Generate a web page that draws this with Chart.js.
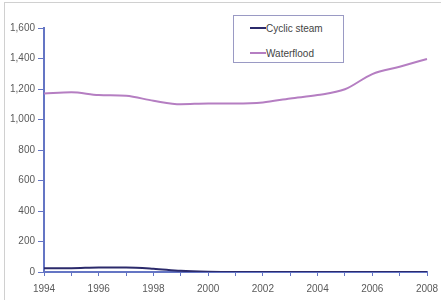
<!DOCTYPE html>
<html>
<head>
<meta charset="utf-8">
<script src="https://cdn.jsdelivr.net/npm/chart.js@4/dist/chart.umd.min.js"></script>
<style>
  html, body { margin: 0; padding: 0; background: #fff; }
  #wrap { position: relative; width: 441px; height: 300px; }
  #frame { position: absolute; left: 4px; top: 2px; width: 437px; height: 298px; border-top: 1px solid #d0d0d0; border-left: 1px solid #d0d0d0; box-sizing: border-box; }
  canvas { position: absolute; left: 0; top: 0; }
  #legend { position: absolute; left: 233px; top: 15px; width: 111px; height: 48px; border: 1px solid #9a9ac4; background: #fff; box-sizing: border-box; font: 10px "Liberation Sans", Arial, sans-serif; color: #444; }
  .item { position: absolute; left: 16px; height: 12px; line-height: 12px; white-space: nowrap; }
  .sw { display: inline-block; width: 16px; height: 2px; vertical-align: middle; margin-top: -2px; }
</style>
</head>
<body>
<div id="wrap">
  <div id="frame"></div>
  <canvas id="c" width="441" height="300"></canvas>
  <div id="legend">
    <div class="item" style="top:7px"><span class="sw" style="background:#2b2a6b"></span>Cyclic steam</div>
    <div class="item" style="top:32px"><span class="sw" style="background:#b57ec2"></span>Waterflood</div>
  </div>
</div>
<script>
const years = ['1994','1995','1996','1997','1998','1999','2000','2001','2002','2003','2004','2005','2006','2007','2008'];
const cyclicSteam = [25, 25, 30, 30, 22, 8, 2, 0, 0, 0, 0, 0, 0, 0, 0];
const waterflood = [1170, 1178, 1160, 1155, 1123, 1100, 1105, 1105, 1112, 1138, 1160, 1198, 1298, 1346, 1397];
const yTicks = { min: 0, max: 1600, step: 200 };

const axisColor = '#6475c4';
new Chart(document.getElementById('c'), {
  type: 'line',
  data: {
    labels: years,
    datasets: [
      { label: 'Cyclic steam', data: cyclicSteam, borderColor: '#2b2a6b', borderWidth: 2, pointRadius: 0, tension: 0.3, cubicInterpolationMode: 'monotone' },
      { label: 'Waterflood', data: waterflood, borderColor: '#b57ec2', borderWidth: 2, pointRadius: 0, tension: 0.3, cubicInterpolationMode: 'monotone' }
    ]
  },
  options: {
    responsive: false,
    animation: false,
    layout: { padding: { left: 0, right: 14, top: 28, bottom: 0 } },
    plugins: { legend: { display: false }, tooltip: { enabled: false } },
    scales: {
      x: {
        offset: false,
        grid: { display: true, drawOnChartArea: false, drawTicks: true, tickLength: 4, color: axisColor, tickWidth: 1 },
        border: { display: true, color: axisColor, width: 2 },
        ticks: {
          autoSkip: false, maxRotation: 0, padding: 7, color: '#5a5a5a',
          font: { family: '"Liberation Sans", Arial, sans-serif', size: 10 },
          callback: function(v, i) { return (i % 2 === 0) ? years[i] : ''; }
        },
        afterFit: function(s) { s.height = 28; s.paddingRight = 0; s.paddingLeft = 0; }
      },
      y: {
        min: yTicks.min, max: yTicks.max,
        grid: { display: true, drawOnChartArea: false, drawTicks: true, tickLength: 6, color: axisColor },
        border: { display: true, color: axisColor, width: 2 },
        ticks: {
          stepSize: yTicks.step, padding: 3, color: '#5a5a5a',
          font: { family: '"Liberation Sans", Arial, sans-serif', size: 10 },
          callback: function(v) { return v.toLocaleString('en-US'); }
        },
        afterFit: function(s) { s.width = 44; }
      }
    }
  }
});
</script>
</body>
</html>
